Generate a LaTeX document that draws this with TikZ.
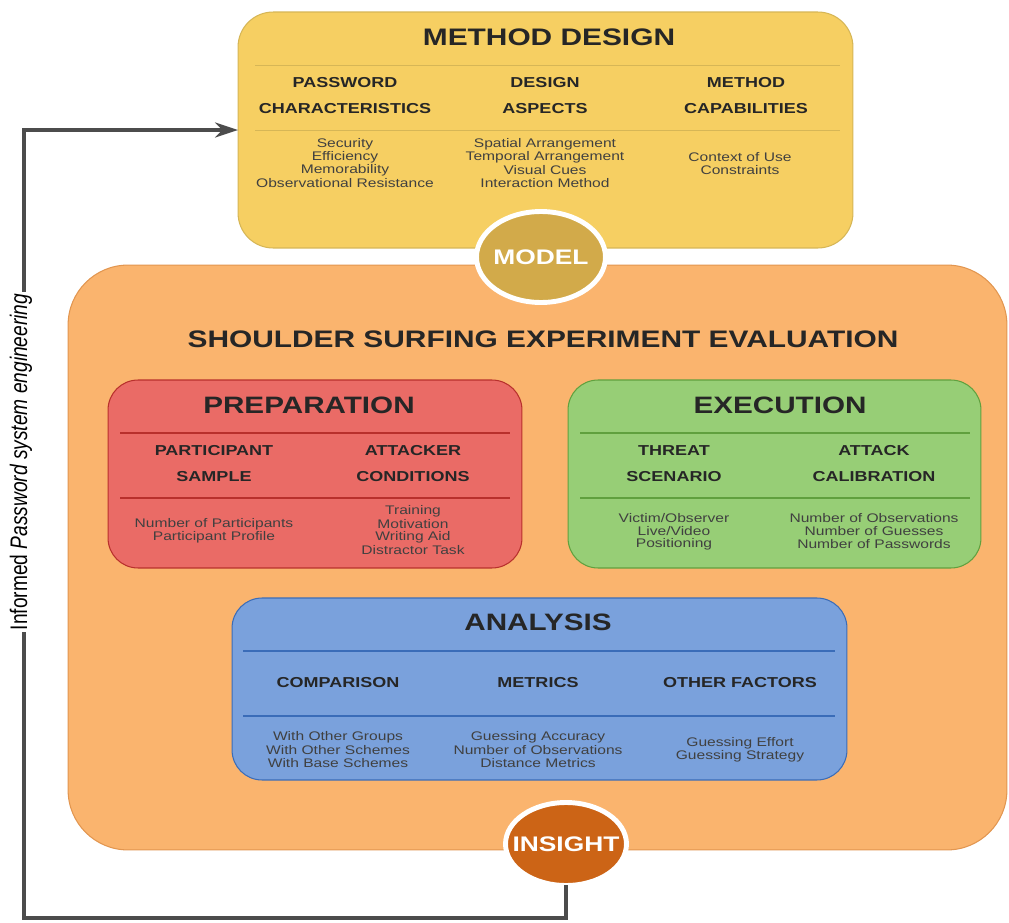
\documentclass[tikz,border=0pt]{standalone}
\usepackage{fontspec}
\setmainfont{Liberation Sans}[FakeStretch=1.25]
\newfontfamily\labelfont{Liberation Sans}
\usetikzlibrary{shapes.geometric,arrows.meta}

\definecolor{designfill}{RGB}{246,207,98}
\definecolor{designline}{RGB}{214,182,86}
\definecolor{modelfill}{RGB}{210,170,74}
\definecolor{evalfill}{RGB}{250,180,110}
\definecolor{evalline}{RGB}{226,150,80}
\definecolor{prepfill}{RGB}{234,107,102}
\definecolor{prepline}{RGB}{184,48,44}
\definecolor{execfill}{RGB}{151,206,118}
\definecolor{execline}{RGB}{96,160,62}
\definecolor{anafill}{RGB}{122,161,220}
\definecolor{analine}{RGB}{58,108,184}
\definecolor{insightfill}{RGB}{204,100,22}

\tikzset{
  panel/.style={rounded corners=0.6cm, inner sep=0pt, outer sep=0pt, line width=0.6pt},
  bigtitle/.style={font=\fontsize{13.6}{16}\selectfont\bfseries, text=black!85},
  subtitle/.style={font=\fontsize{13.5}{16}\selectfont\bfseries, text=black!85},
  head/.style={font=\fontsize{8.2}{10}\selectfont\bfseries, text=black!85},
  item/.style={font=\fontsize{7.1}{8}\selectfont, text=black!75, inner sep=0pt},
  badge/.style={ellipse, draw=white, line width=2.8pt, inner sep=0pt, outer sep=0pt},
  badgetext/.style={text=white, font=\fontsize{12}{14}\selectfont\bfseries},
  feedback/.style={draw=black!70, line width=1.8pt},
}

\newcommand*{\HeadColumn}[4]{% #1 = name, #2 = x, #3 = first y, #4 = list of texts
\foreach \text [count=\i] in {#4} {
\node [head] (#1\i) at (#2,#3+26*\i-26) {\text};
}%
}
\newcommand*{\ItemColumn}[4]{% #1 = name, #2 = x, #3 = first y, #4 = list of texts
\foreach \text [count=\i] in {#4} {
\node [item] (#1\i) at (#2,#3+13*\i-13) {\text};
}%
}

\begin{document}
\begin{tikzpicture}[x=0.02cm, y=-0.02cm]

  \fill[white] (0,0) rectangle (1009,923);
  \useasboundingbox (0,0) rectangle (1009,923);

  % method design
  \node [panel, rounded corners=0.7cm, fill=designfill, draw=designline,
    minimum width=12.3cm, minimum height=4.72cm] (design) at (545.5,130) {};
  \node [bigtitle] (designTitle) at (549,37) {METHOD DESIGN};
  \draw [designline, line width=0.5pt] (255,65) -- (840,65) (255,130) -- (840,130);
  \HeadColumn{pc}{345}{83}{PASSWORD,CHARACTERISTICS}
  \HeadColumn{da}{545}{83}{DESIGN,ASPECTS}
  \HeadColumn{mc}{746}{83}{METHOD,CAPABILITIES}
  \ItemColumn{pcItem}{345}{144}{Security,Efficiency,Memorability,Observational Resistance}
  \ItemColumn{daItem}{545}{144}{Spatial Arrangement,Temporal Arrangement,Visual Cues,Interaction Method}
  \ItemColumn{mcItem}{740}{157}{Context of Use,Constraints}

  % shoulder surfing evaluation
  \node [panel, rounded corners=1.2cm, fill=evalfill, draw=evalline,
    minimum width=18.78cm, minimum height=11.7cm] (eval) at (537.5,557.5) {};
  \node [bigtitle] (evalTitle) at (543,339) {SHOULDER SURFING EXPERIMENT EVALUATION};

  \node [badge, fill=modelfill, minimum width=2.58cm, minimum height=1.82cm] (model) at (541,257) {};
  \node [badgetext] (modelText) at (model.center) {MODEL};

  % preparation
  \node [panel, fill=prepfill, draw=prepline,
    minimum width=8.28cm, minimum height=3.76cm] (prep) at (315,474) {};
  \node [subtitle] (prepTitle) at (309,405) {PREPARATION};
  \draw [prepline, line width=0.7pt] (120,433) -- (510,433) (120,498) -- (510,498);
  \HeadColumn{ps}{214}{451}{PARTICIPANT,SAMPLE}
  \HeadColumn{ac}{413}{451}{ATTACKER,CONDITIONS}
  \ItemColumn{psItem}{214}{524}{Number of Participants,Participant Profile}
  \ItemColumn{acItem}{413}{511}{Training,Motivation,Writing Aid,Distractor Task}

  % execution
  \node [panel, fill=execfill, draw=execline,
    minimum width=8.26cm, minimum height=3.76cm] (exec) at (774.5,474) {};
  \node [subtitle] (execTitle) at (780,405) {EXECUTION};
  \draw [execline, line width=0.7pt] (580,433) -- (970,433) (580,498) -- (970,498);
  \HeadColumn{ts}{674}{451}{THREAT,SCENARIO}
  \HeadColumn{cal}{874}{451}{ATTACK,CALIBRATION}
  \ItemColumn{tsItem}{674}{518}{Victim/Observer,Live/Video,Positioning}
  \ItemColumn{calItem}{874}{518}{Number of Observations,Number of Guesses,Number of Passwords}

  % analysis
  \node [panel, fill=anafill, draw=analine,
    minimum width=12.3cm, minimum height=3.64cm] (ana) at (539.5,689) {};
  \node [subtitle] (anaTitle) at (538,622) {ANALYSIS};
  \draw [analine, line width=0.7pt] (243,651) -- (835,651) (243,716) -- (835,716);
  \HeadColumn{cmp}{338}{683}{COMPARISON}
  \HeadColumn{met}{538}{683}{METRICS}
  \HeadColumn{oth}{740}{683}{OTHER FACTORS}
  \ItemColumn{cmpItem}{338}{737}{With Other Groups,With Other Schemes,With Base Schemes}
  \ItemColumn{metItem}{538}{737}{Guessing Accuracy,Number of Observations,Distance Metrics}
  \ItemColumn{othItem}{740}{743}{Guessing Effort,Guessing Strategy}

  \node [badge, fill=insightfill, minimum width=2.42cm, minimum height=1.66cm] (insight) at (566,844) {};
  \node [badgetext] (insightText) at (insight.center) {INSIGHT};

  % feedback loop
  \coordinate (loopBL) at (24,918);
  \coordinate (loopTL) at (24,130);
  \draw [feedback, -{Stealth[length=0.46cm, width=0.3cm]}]
    (insight.south) |- (loopBL) -- (loopTL) -- (design.west);
  \node [fill=white, rotate=90, inner sep=1pt] (loopText) at (21,462)
    {\scalebox{1}[1.25]{\labelfont\fontsize{10.9}{12}\selectfont Informed \textit{Password system engineering}}};

\end{tikzpicture}
\end{document}
